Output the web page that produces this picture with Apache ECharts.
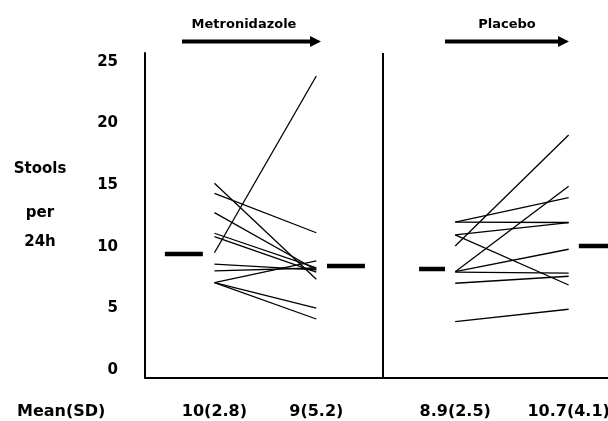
<!DOCTYPE html>
<html><head><meta charset="utf-8">
<script src="https://cdn.jsdelivr.net/npm/echarts@6/dist/echarts.min.js"></script>
<style>html,body{margin:0;padding:0;background:#fff}#c{width:608px;height:421px}</style>
</head><body><div id="c"></div>
<script>
// ---- data ----
const yTicks = [0, 5, 10, 15, 20, 25];
const groupNames = ['Metronidazole', 'Placebo'];
const xPositions = [1.5, 3.7, 6.7, 9.15]; // metro pre, metro post, placebo pre, placebo post
const meanLabels = ['10(2.8)', '9(5.2)', '8.9(2.5)', '10.7(4.1)'];
const metroPre  = [9.52, 15.15, 14.34, 12.77, 11.10, 10.82, 8.60, 8.04, 7.09, 7.09, 7.09];
const metroPost = [23.86, 7.36, 11.14, 8.12, 8.28, 7.95, 8.12, 8.28, 8.85, 5.03, 4.14];
const placeboPre  = [10.06, 12.01, 12.01, 10.96, 10.96, 7.98, 7.98, 7.95, 7.04, 3.92];
const placeboPost = [19.07, 13.99, 11.97, 11.96, 6.90, 14.91, 9.80, 7.87, 7.61, 4.93];
const meanMarks = [9.42, 8.44, 8.20, 10.06];
const meanSpans = [[0.43, 1.25], [3.93, 4.75], [5.92, 6.48], [9.37, 10]];
const dividerX = 5.14;

// ---- chart ----
const FONT = 'DejaVu Sans';
const chart = echarts.init(document.getElementById('c'), null, {renderer: 'canvas'});
const series = [];
function addPairs(pre, post, xa, xb) {
  pre.forEach((v, i) => {
    series.push({
      type: 'line', silent: true, symbol: 'none', animation: false,
      lineStyle: {color: '#000', width: 1.3},
      data: [[xa, v], [xb, post[i]]]
    });
  });
}
addPairs(metroPre, metroPost, xPositions[0], xPositions[1]);
addPairs(placeboPre, placeboPost, xPositions[2], xPositions[3]);
meanMarks.forEach((m, i) => {
  series.push({
    type: 'line', silent: true, symbol: 'none', animation: false,
    lineStyle: {color: '#000', width: 4.5, cap: 'butt'},
    data: [[meanSpans[i][0], m], [meanSpans[i][1], m]]
  });
});
series[0].markLine = {
  silent: true, symbol: ['none', 'none'], animation: false,
  label: {show: false},
  lineStyle: {color: '#000', width: 2, type: 'solid'},
  data: [{xAxis: dividerX}]
};

function arrow(x1, x2, y) {
  return [
    {type: 'line', shape: {x1: x1, y1: y, x2: x2 - 9, y2: y}, style: {stroke: '#000', lineWidth: 4}},
    {type: 'polygon', shape: {points: [[x2 - 11, y - 5.5], [x2, y], [x2 - 11, y + 5.5]]}, style: {fill: '#000'}}
  ];
}
const txt = (t, x, y, size, align) => ({
  type: 'text', x: x, y: y,
  style: {text: t, font: 'bold ' + size + 'px "' + FONT + '"', fill: '#000', align: align || 'center', verticalAlign: 'middle'}
});

chart.setOption({
  animation: false,
  backgroundColor: '#fff',
  grid: {left: 145, right: 0, top: 53, bottom: 43, containLabel: false, outerBoundsMode: 'none'},
  xAxis: {
    type: 'value', min: 0, max: 10,
    axisLine: {show: true, onZero: false, lineStyle: {color: '#000', width: 2}},
    axisTick: {show: false}, splitLine: {show: false},
    axisLabel: {
      customValues: xPositions, margin: 26,
      formatter: v => meanLabels[xPositions.indexOf(v)] || '',
      color: '#000', fontFamily: FONT, fontWeight: 'bold', fontSize: 16
    }
  },
  yAxis: {
    type: 'value', min: -0.65, max: 25.73,
    axisLine: {show: true, onZero: false, lineStyle: {color: '#000', width: 2}},
    axisTick: {show: false}, splitLine: {show: false},
    axisLabel: {
      customValues: yTicks, margin: 27,
      color: '#000', fontFamily: FONT, fontWeight: 'bold', fontSize: 15
    }
  },
  graphic: [
    ...arrow(182, 321, 41.5),
    ...arrow(445, 569, 41.5),
    txt(groupNames[0], 244, 25, 13),
    txt(groupNames[1], 507, 25, 13),
    txt('Stools', 40, 169, 15),
    txt('per', 40, 213, 15),
    txt('24h', 40, 242, 15),
    txt('Mean(SD)', 17, 412, 16, 'left')
  ],
  series: series
});
</script>
</body></html>
